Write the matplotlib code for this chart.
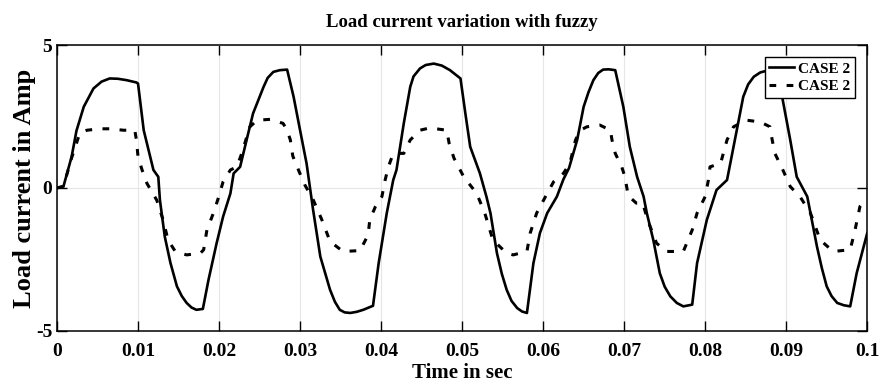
import matplotlib.pyplot as plt

# ---------- Data ----------
t_solid = [0.0, 0.0008, 0.0018, 0.0024, 0.0033, 0.0045, 0.0055, 0.0065, 0.0075, 0.0086,
           0.0098, 0.0100, 0.0107, 0.0119, 0.0125, 0.0127, 0.0133, 0.0140, 0.0148, 0.0154,
           0.0160, 0.0166, 0.0172, 0.0180, 0.0187, 0.0197, 0.0205, 0.0214, 0.0218, 0.0226,
           0.0234, 0.0242, 0.0255, 0.0260, 0.0267, 0.0275, 0.0284, 0.0292, 0.0300, 0.0308,
           0.0316, 0.0325, 0.0337, 0.0343, 0.0349, 0.0355, 0.0362, 0.0370, 0.0378, 0.0390,
           0.0397, 0.0407, 0.0415, 0.0419, 0.0428, 0.0436, 0.0440, 0.0448, 0.0455, 0.0465,
           0.0475, 0.0485, 0.0498, 0.0504, 0.0510, 0.0522, 0.0530, 0.0535, 0.0543, 0.0549,
           0.0555, 0.0561, 0.0568, 0.0574, 0.0580, 0.0588, 0.0596, 0.0605, 0.0617, 0.0625,
           0.0632, 0.0642, 0.0650, 0.0656, 0.0662, 0.0668, 0.0674, 0.0681, 0.0689, 0.0699,
           0.0707, 0.0716, 0.0724, 0.0728, 0.0736, 0.0744, 0.0750, 0.0757, 0.0765, 0.0773,
           0.0784, 0.0790, 0.0802, 0.0814, 0.0827, 0.0839, 0.0847, 0.0853, 0.0860, 0.0868,
           0.0876, 0.0888, 0.0895, 0.0905, 0.0913, 0.0926, 0.0930, 0.0938, 0.0944, 0.0950,
           0.0956, 0.0963, 0.0971, 0.0979, 0.0987, 0.1000]
i_solid = [0.0, 0.06, 1.09, 2.0, 2.84, 3.48, 3.72, 3.83, 3.82, 3.77,
           3.69, 3.65, 2.02, 0.63, 0.39, -0.42, -1.70, -2.62, -3.44, -3.78,
           -4.02, -4.18, -4.26, -4.23, -3.21, -1.93, -1.0, -0.19, 0.51, 0.74,
           1.68, 2.61, 3.54, 3.85, 4.06, 4.12, 4.14, 3.19, 2.02, 0.86,
           -0.75, -2.40, -3.56, -3.98, -4.26, -4.35, -4.37, -4.33, -4.26, -4.12,
           -2.63, -0.88, 0.28, 0.63, 2.26, 3.54, 3.90, 4.18, 4.30, 4.35,
           4.28, 4.12, 3.83, 2.61, 1.44, 0.51, -0.30, -0.88, -2.28, -3.0,
           -3.56, -3.95, -4.20, -4.32, -4.37, -2.63, -1.58, -0.88, -0.30, 0.30,
           0.70, 1.68, 2.84, 3.35, 3.77, 4.02, 4.14, 4.15, 4.12, 2.84,
           1.44, 0.39, -0.30, -0.88, -1.82, -2.98, -3.45, -3.79, -4.02, -4.14,
           -4.08, -2.63, -1.12, -0.07, 0.28, 2.02, 3.19, 3.62, 3.89, 4.04,
           4.10, 4.06, 3.19, 1.68, 0.39, -0.30, -0.88, -2.05, -2.80, -3.44,
           -3.78, -4.02, -4.10, -4.14, -2.98, -1.58]

t_dash = [0.0, 0.0008, 0.0018, 0.0028, 0.0037, 0.0053, 0.0065, 0.0082, 0.0096, 0.0098,
          0.0100, 0.0105, 0.0111, 0.0123, 0.0131, 0.0137, 0.0146, 0.0160, 0.0177, 0.0181,
          0.0185, 0.0193, 0.0199, 0.0205, 0.0214, 0.0222, 0.0228, 0.0238, 0.0247, 0.0263,
          0.0279, 0.0284, 0.0288, 0.0291, 0.0298, 0.0306, 0.0316, 0.0327, 0.0337, 0.0353,
          0.0374, 0.0384, 0.0386, 0.0393, 0.0401, 0.0405, 0.0409, 0.0415, 0.0428, 0.0436,
          0.0448, 0.0460, 0.0481, 0.0484, 0.0490, 0.0502, 0.0518, 0.0528, 0.0538, 0.0555,
          0.0563, 0.0580, 0.0584, 0.0592, 0.0605, 0.0613, 0.0625, 0.0633, 0.0640, 0.0646,
          0.0654, 0.0670, 0.0683, 0.0685, 0.0689, 0.0697, 0.0701, 0.0705, 0.0715, 0.0723,
          0.0729, 0.0740, 0.0752, 0.0773, 0.0784, 0.0790, 0.0800, 0.0804, 0.0806, 0.0819,
          0.0827, 0.0835, 0.0851, 0.0868, 0.0880, 0.0882, 0.0886, 0.0895, 0.0905, 0.0917,
          0.0930, 0.0942, 0.0958, 0.0979, 0.0985, 0.0991, 0.1000]
i_dash = [0.0, 0.06, 1.05, 1.91, 2.02, 2.07, 2.07, 2.02, 2.02, 1.68,
          1.09, 0.63, 0.16, -0.42, -1.12, -1.82, -2.22, -2.34, -2.28, -2.16,
          -1.47, -0.88, -0.36, 0.22, 0.63, 0.74, 1.21, 2.14, 2.37, 2.40,
          2.26, 2.02, 1.68, 1.12, 0.63, 0.10, -0.40, -1.12, -1.87, -2.22,
          -2.19, -1.64, -1.12, -0.65, -0.30, 0.28, 0.74, 1.21, 1.21, 1.68,
          2.02, 2.10, 2.02, 1.56, 1.04, 0.39, -0.19, -0.88, -1.82, -2.28,
          -2.34, -2.22, -1.58, -0.88, -0.19, 0.22, 0.51, 0.86, 1.68, 2.02,
          2.14, 2.20, 2.02, 1.68, 1.21, 0.74, 0.39, -0.27, -0.53, -0.53,
          -1.12, -1.93, -2.22, -2.22, -1.47, -0.88, -0.30, 0.28, 0.74, 0.86,
          1.68, 2.14, 2.37, 2.31, 2.14, 1.79, 1.21, 0.69, 0.05, -0.30,
          -0.88, -1.82, -2.22, -2.16, -1.47, -0.65, -0.35]

x_ticks = [0, 0.01, 0.02, 0.03, 0.04, 0.05, 0.06, 0.07, 0.08, 0.09, 0.1]
x_labels = ["0", "0.01", "0.02", "0.03", "0.04", "0.05", "0.06", "0.07", "0.08", "0.09", "0.1"]
y_ticks = [-5, 0, 5]
legend_labels = ["CASE 2", "CASE 2"]

# ---------- Plot ----------
plt.rcParams["font.family"] = ["Liberation Serif", "DejaVu Serif"]
plt.rcParams["font.weight"] = "bold"
plt.rcParams["axes.unicode_minus"] = False

fig = plt.figure(figsize=(8.84, 3.88), dpi=100)
ax = fig.add_axes([0.0645, 0.147, 0.9165, 0.737])

ax.plot(t_solid, i_solid, color="black", lw=1.9, label=legend_labels[0])
ax.plot(t_dash, i_dash, color="black", lw=2.2, linestyle=(0, (2.2, 3.4)),
        label=legend_labels[1])

ax.set_xlim(0, 0.1)
ax.set_ylim(-5, 5)
ax.set_xticks(x_ticks)
ax.set_xticklabels(x_labels)
ax.set_yticks(y_ticks)
ax.grid(True, color="#e6e6e6", lw=0.8)
ax.set_axisbelow(True)
ax.tick_params(direction="in", top=True, right=True, length=7, width=1,
               labelsize=14)
ax.tick_params(axis="x", pad=9)
for s in ax.spines.values():
    s.set_linewidth(1.1)

ax.set_title("Load current variation with fuzzy", fontsize=13.5, fontweight="bold", pad=13)
ax.set_xlabel("Time in sec", fontsize=15, fontweight="bold", labelpad=2)
ax.set_ylabel("Load current in Amp", fontsize=19, fontweight="bold", labelpad=0)

leg = ax.legend(loc="upper right", fontsize=11, frameon=True, fancybox=False,
                edgecolor="black", framealpha=1, handlelength=1.6, borderaxespad=0.8,
                borderpad=0.3, labelspacing=0.25, handletextpad=0.3,
                bbox_to_anchor=(1.0, 1.0))
leg.get_frame().set_linewidth(1.0)

fig.savefig("out.png", dpi=100)
